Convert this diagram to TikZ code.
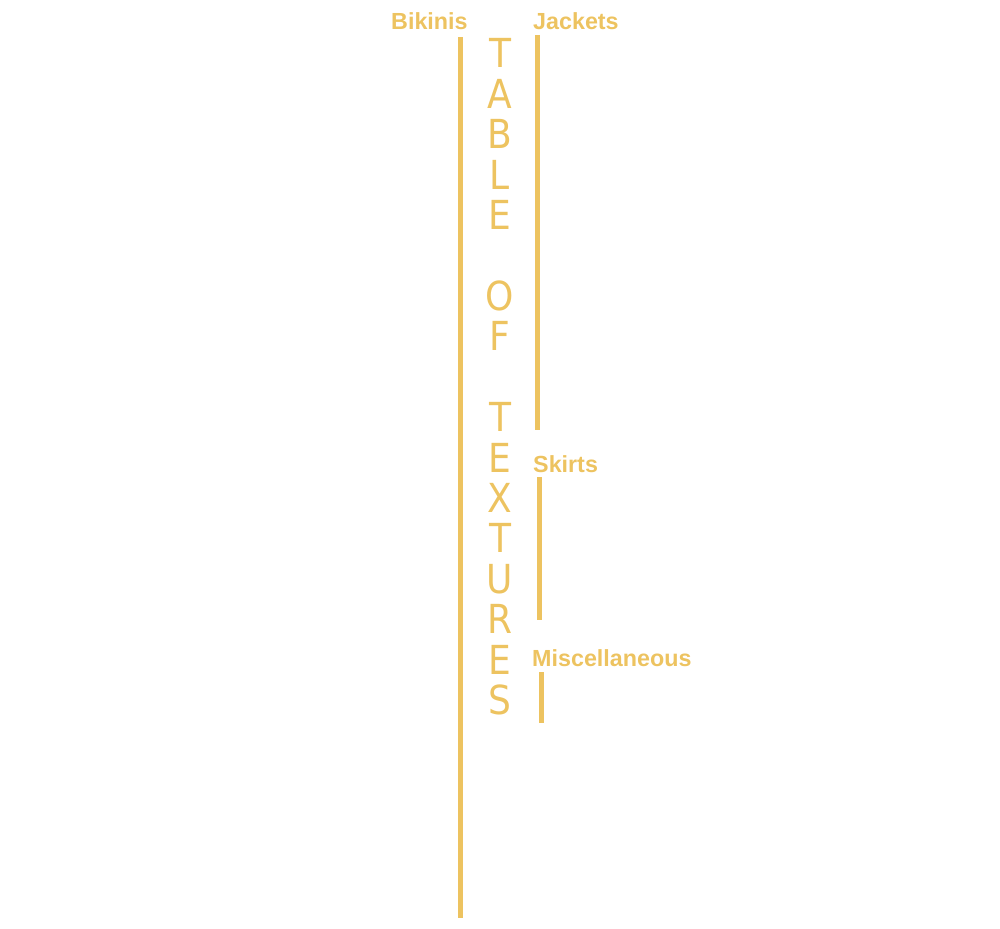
\documentclass[tikz,border=0pt]{standalone}
\usepackage{fontspec}
\setmainfont{Liberation Sans}
\newfontfamily\vfont{DejaVu Sans Condensed}
\definecolor{gold}{RGB}{237,195,96}
\begin{document}
\begin{tikzpicture}[x=1pt,y=-1pt,
  lbl/.style={text=gold,font=\fontsize{23.3}{26}\selectfont\bfseries,inner sep=0pt,anchor=base west},
  bar/.style={draw=gold,line width=5pt},
  vlet/.style={text=gold,font=\vfont\fontsize{40}{40}\selectfont,inner sep=0pt,anchor=base}]
\useasboundingbox (0,0) rectangle (1000,928);
\node[lbl] (bik) at (391,30) {Bikinis};
\node[lbl] (jac) at (533,30) {Jackets};
\node[lbl] (ski) at (533,472) {Skirts};
\node[lbl] (mis) at (532,666) {Miscellaneous};
\coordinate (b1) at (460,37); \coordinate (b2) at (460,918);
\coordinate (j1) at (537,35); \coordinate (j2) at (537,430);
\coordinate (s1) at (539,477); \coordinate (s2) at (539,620);
\coordinate (m1) at (541,672); \coordinate (m2) at (541,723);
\draw[bar] (b1) -- (b2);
\draw[bar] (j1) -- (j2);
\draw[bar] (s1) -- (s2);
\draw[bar] (m1) -- (m2);
\foreach \c [count=\i] in {T,A,B,L,E,{},O,F,{},T,E,X,T,U,R,E,S}{
  \node[vlet] (let\i) at (500,{68+(\i-1)*40.4}) {\c};
}
\end{tikzpicture}
\end{document}
